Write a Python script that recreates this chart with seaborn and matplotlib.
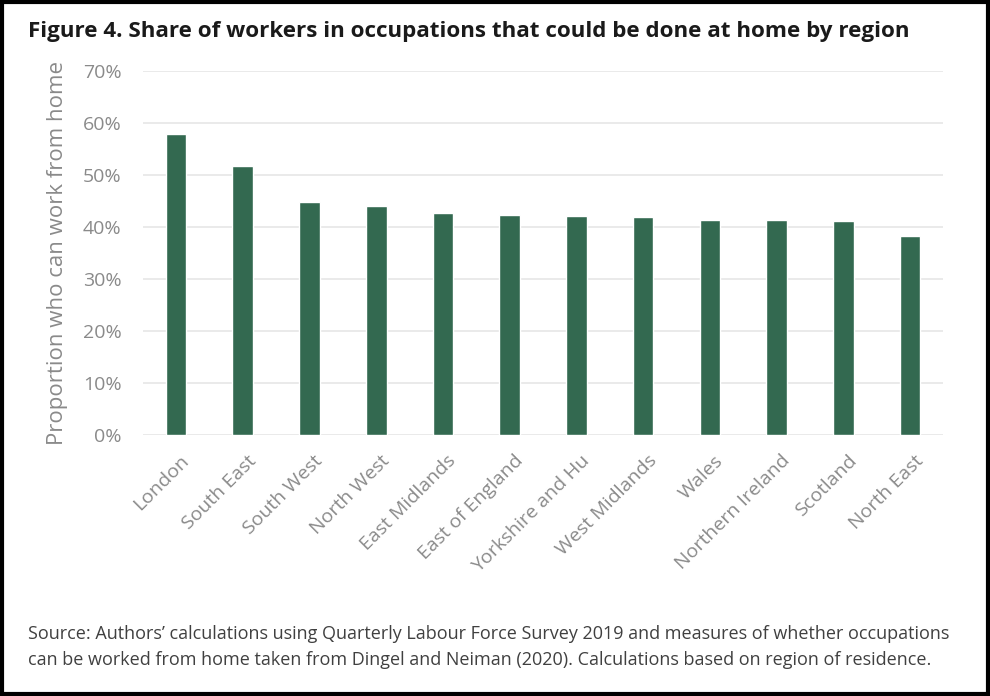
import pandas as pd
import matplotlib
matplotlib.use("Agg")
import matplotlib.pyplot as plt
import matplotlib.patches as patches
import matplotlib.transforms as mtransforms
from matplotlib.ticker import PercentFormatter
import seaborn as sns

regions = ["London", "South East", "South West", "North West", "East Midlands",
           "East of England", "Yorkshire and Hu", "West Midlands", "Wales",
           "Northern Ireland", "Scotland", "North East"]
share = [57.9, 51.7, 44.8, 44.0, 42.6, 42.4, 42.1, 41.9, 41.4, 41.35, 41.1, 38.2]

df = pd.DataFrame({"region": regions, "share": share})

sns.set_style("white")
plt.rcParams['font.family'] = ['Open Sans', 'DejaVu Sans']

fig = plt.figure(figsize=(9.9, 6.96), dpi=100)
ax = fig.add_axes([0.144, 0.375, 0.809, 0.523])

sns.barplot(data=df, x="region", y="share", color="#336950", width=0.31,
            saturation=1, ax=ax)

ax.set_ylim(0, 70)
ax.set_yticks(range(0, 71, 10))
ax.yaxis.set_major_formatter(PercentFormatter(decimals=0))
ax.grid(axis="y", color="#e6e6e6", linewidth=1.2)
ax.set_axisbelow(True)
for s in ax.spines.values():
    s.set_visible(False)
ax.tick_params(axis="both", length=0, labelsize=14, labelcolor="#8a8a8a")
ax.tick_params(axis="y", pad=15)
ax.tick_params(axis="x", pad=12)
ax.set_xlabel("")
ax.set_ylabel("Proportion who can work from home", fontsize=16, color="#8a8a8a",
              labelpad=11)
plt.setp(ax.get_xticklabels(), rotation=45, ha="right", rotation_mode="anchor")
shift = mtransforms.ScaledTranslation(3 / 72, 0, fig.dpi_scale_trans)
for lbl in ax.get_xticklabels():
    lbl.set_transform(lbl.get_transform() + shift)

fig.text(0.028, 0.955, "Figure 4. Share of workers in occupations that could be done at home by region",
         fontsize=16.1, fontweight="bold", color="#1a1a1a", va="center")
fig.text(0.028, 0.0705,
         "Source: Authors\u2019 calculations using Quarterly Labour Force Survey 2019 and measures of whether occupations\n"
         "can be worked from home taken from Dingel and Neiman (2020). Calculations based on region of residence.",
         fontsize=13.0, color="#404040", va="center", linespacing=1.55)

fig.patches.append(patches.Rectangle((0.002, 0.003), 0.996, 0.994, transform=fig.transFigure,
                                     fill=False, edgecolor="black", linewidth=3))

fig.savefig("out.png", dpi=100)
